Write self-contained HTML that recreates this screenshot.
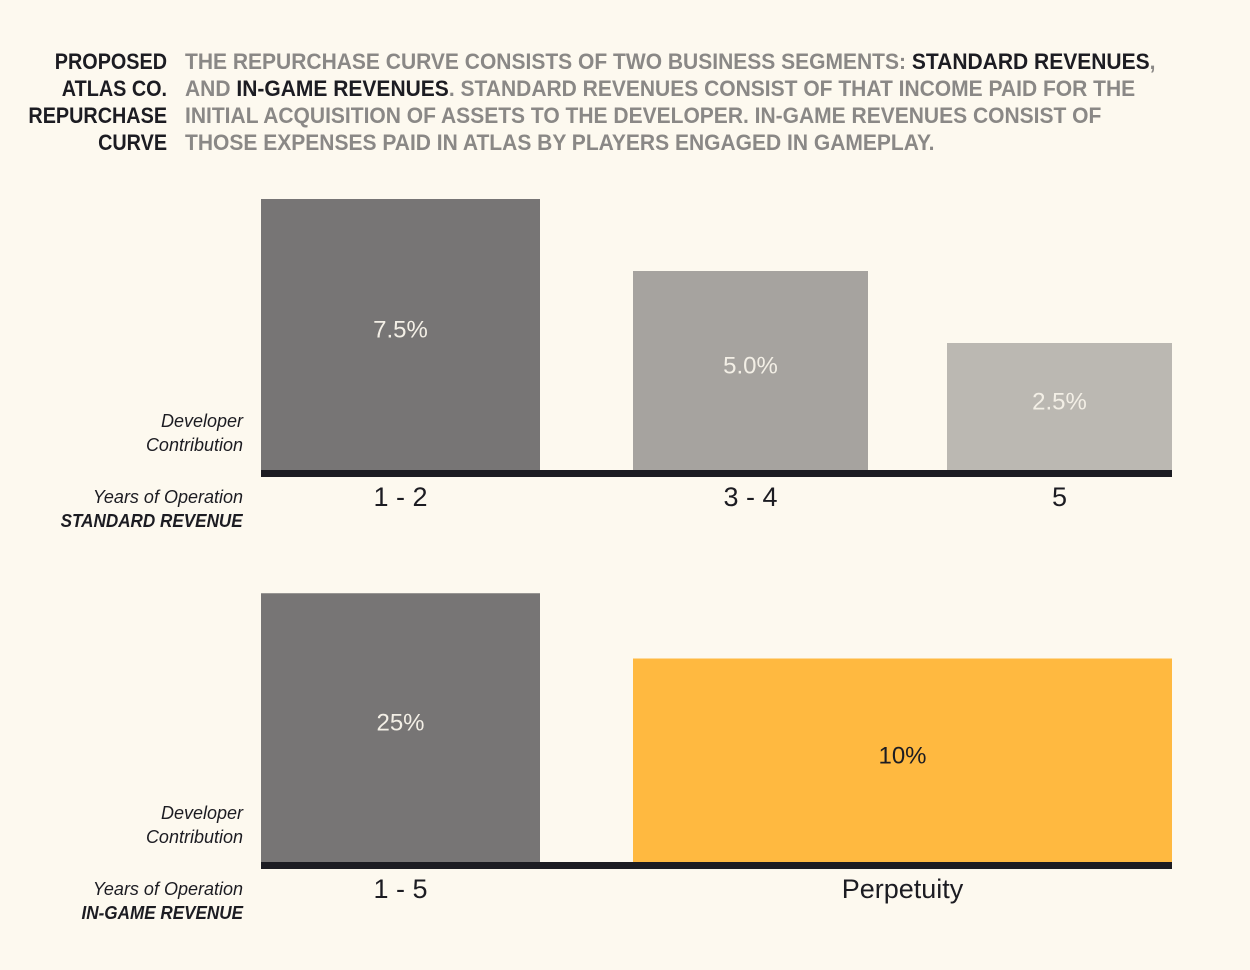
<!DOCTYPE html>
<html><head><meta charset="utf-8">
<style>
body{margin:0;width:1250px;height:970px;background:#fdf9ef;overflow:hidden;position:relative;font-family:"Liberation Sans",sans-serif}
.hd{position:absolute;font-family:"Liberation Sans Narrow","Liberation Sans",sans-serif;font-weight:bold;font-size:22px;line-height:27px;white-space:nowrap}
#title{right:1083px;top:48px;text-align:right;color:#1c1c22;transform:scaleX(0.9);transform-origin:right top}
#para{left:185px;top:48px;color:#8a8886;transform:scaleX(0.955);transform-origin:left top}
#para b{color:#1c1c22}
.lab{position:absolute;right:1007px;text-align:right;font-style:italic;font-size:18px;color:#1c1c22;line-height:24px;white-space:nowrap}
.lab b{display:inline-block;transform:scaleX(0.95);transform-origin:right}
svg{position:absolute;left:0;top:0}
</style></head><body>
<div class="hd" id="title">PROPOSED<br>ATLAS CO.<br>REPURCHASE<br>CURVE</div>
<div class="hd" id="para">THE REPURCHASE CURVE CONSISTS OF TWO BUSINESS SEGMENTS: <b>STANDARD REVENUES</b>,<br>AND <b>IN-GAME REVENUES</b>. STANDARD REVENUES CONSIST OF THAT INCOME PAID FOR THE<br>INITIAL ACQUISITION OF ASSETS TO THE DEVELOPER. IN-GAME REVENUES CONSIST OF<br>THOSE EXPENSES PAID IN ATLAS BY PLAYERS ENGAGED IN GAMEPLAY.</div>
<div class="lab" style="top:409px">Developer<br>Contribution</div>
<div class="lab" style="top:485px">Years of Operation<br><b>STANDARD REVENUE</b></div>
<div class="lab" style="top:801px">Developer<br>Contribution</div>
<div class="lab" style="top:877px">Years of Operation<br><b>IN-GAME REVENUE</b></div>
<svg id="chart" width="1250" height="970"></svg>
<script>
const stdCats=["1 - 2","3 - 4","5"];
const stdVals=[7.5,5.0,2.5];
const stdLabels=["7.5%","5.0%","2.5%"];
const igCats=["1 - 5","Perpetuity"];
const igVals=[25,10];
const igLabels=["25%","10%"];
const NS="http://www.w3.org/2000/svg";
const svg=document.getElementById('chart');
function mk(t,a){const e=document.createElementNS(NS,t);for(const k in a)e.setAttribute(k,a[k]);svg.appendChild(e);return e;}
function draw(cats,vals,labels,base,xs,colors,hScale,txtCols,name){
  vals.forEach((v,i)=>{
    const h=hScale(v);
    const r=mk('rect',{x:xs[i][0],y:base-h,width:xs[i][1]-xs[i][0],height:h,fill:colors[i]});
    
    
    const cx=(xs[i][0]+xs[i][1])/2;
    const t=mk('text',{x:cx,y:base-h/2+3,'text-anchor':'middle','font-size':'24','fill':txtCols[i],'font-family':'Liberation Sans, sans-serif'});
    t.textContent=labels[i];
    
    
    const c=mk('text',{x:cx,y:base+36,'text-anchor':'middle','font-size':'27','fill':'#1c1c22','font-family':'Liberation Sans, sans-serif'});
    c.textContent=cats[i];
    
    
  });
  const b=mk('rect',{x:261,y:base,width:911,height:7,fill:'#1c1c22'});
  
  
}
draw(stdCats,stdVals,stdLabels,470,[[261,540],[633,868],[947,1172]],["#777575","#a6a39f","#bbb8b2"],v=>55+28.8*v,["#f3efe6","#f3efe6","#f3efe6"],'standard');
draw(igCats,igVals,igLabels,862,[[261,540],[633,1172]],["#777575","#ffb940"],v=>160+4.35*v,["#f3efe6","#1c1c22"],'ingame');
</script>
</body></html>
